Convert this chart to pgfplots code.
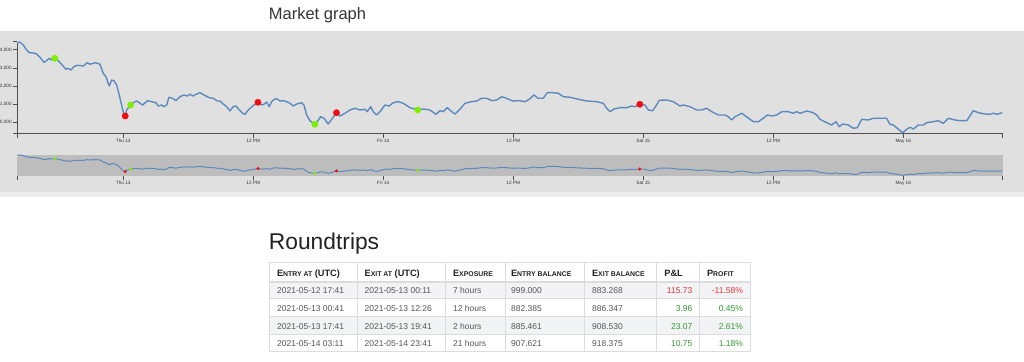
\documentclass[border=0pt]{standalone}
\usepackage{pgfplots}
\pgfplotsset{compat=1.18}
\usepackage{pgfplotstable}
\usepackage{fontspec}
\setmainfont{Liberation Sans}
\definecolor{cline}{RGB}{92,138,190}
\definecolor{cgreen}{RGB}{124,240,0}
\definecolor{cred}{RGB}{240,10,20}
\definecolor{bgpanel}{RGB}{224,224,224}
\definecolor{bgband}{RGB}{236,236,236}
\definecolor{brush}{RGB}{189,189,189}
\definecolor{axc}{RGB}{80,80,80}
\definecolor{tickc}{RGB}{51,51,51}
\definecolor{tborder}{RGB}{220,220,222}
\definecolor{tshade}{RGB}{242,243,245}
\definecolor{ttext}{RGB}{85,85,85}
\definecolor{thead}{RGB}{34,34,34}
\definecolor{tred}{RGB}{232,50,60}
\definecolor{tgreen}{RGB}{51,153,51}
\newcommand{\dfont}{\fontsize{4.25pt}{5pt}\selectfont}
\newcommand{\hfont}{\fontsize{4.6pt}{5.5pt}\selectfont\bfseries}
\newcommand{\sm}[1]{{\fontsize{3.45pt}{4pt}\selectfont #1}}

% hours since 2021-05-13 00:00 UTC, price
\pgfplotstableread{
h p
-9.78 24403
-9.54 24442
-9.23 24276
-8.92 24000
-8.68 23851
-8.31 23834
-7.99 23779
-7.69 23597
-7.32 23320
-7.07 23409
-6.83 23541
-6.61 23447
-6.317 23541
-6.00 23409
-5.69 23210
-5.29 22934
-5.08 22989
-4.83 22895
-4.55 23077
-4.25 23155
-3.69 23116
-3.32 23298
-3.07 23210
-2.77 23265
-2.52 23298
-2.15 23210
-1.85 22713
-1.60 22525
-1.44 22249
-1.29 22011
-1.07 22342
-0.86 22304
-0.61 22066
-0.37 21514
-0.15 20961
0.065 20409
0.183 20353
0.31 20685
0.683 20961
0.92 21088
1.24 21182
1.48 21088
1.79 20961
2.25 21199
2.71 21127
3.02 21088
3.23 20906
3.55 20961
3.76 20867
4.01 20961
4.22 21387
4.56 21331
4.87 21199
5.23 21420
5.60 21514
5.91 21458
6.16 21552
6.46 21458
6.71 21552
7.08 21641
7.45 21514
7.94 21365
8.31 21331
8.68 21182
8.93 21182
9.23 21016
9.55 20867
9.85 20630
10.15 20867
10.40 20906
10.71 20685
11.02 20503
11.23 20447
11.54 20685
11.95 20906
12.433 21110
12.78 20961
13.02 21016
13.24 21127
13.48 20867
13.70 21144
13.94 21276
14.16 21309
14.47 21182
14.77 21199
15.08 21144
15.39 21055
15.69 20906
16.01 21016
16.47 21088
16.68 20961
16.93 20409
17.23 20094
17.683 19895
17.91 20039
18.22 20315
18.53 20226
18.92 19911
19.24 20171
19.683 20536
20.00 20353
20.47 20503
20.93 20685
21.39 20779
21.85 20685
22.31 20724
22.52 20591
22.84 20867
23.08 20591
23.39 20409
23.70 20591
24.16 20961
24.55 20906
24.92 21088
25.39 21144
25.85 21055
26.47 20812
27.183 20685
27.69 20740
28.31 20685
28.87 20447
29.24 20646
29.54 20591
29.91 20812
30.32 20591
30.62 20464
31.08 20724
31.54 21055
32.16 21144
32.62 21182
33.08 21331
33.55 21331
34.01 21199
34.47 21237
34.93 21420
35.39 21331
35.95 21182
36.62 21199
37.08 21144
37.48 21276
37.91 21514
38.31 21331
38.77 21331
39.14 21641
39.64 21641
40.16 21608
40.62 21420
41.24 21387
42.00 21276
42.78 21182
43.70 21144
44.31 21055
44.62 20779
44.93 20591
45.30 20740
45.85 20812
46.47 20812
46.93 20906
47.24 20867
47.683 21000
48.16 20961
48.46 20685
48.87 20646
49.17 20906
49.48 21221
50.16 21237
50.77 21144
51.39 20906
51.69 20961
52.31 20867
52.93 20685
53.39 20685
53.85 20779
54.32 20591
54.93 20409
55.54 20409
55.85 20315
56.16 20132
56.47 20315
57.09 20503
57.60 20282
58.16 20039
58.62 20039
59.08 20226
59.45 20409
59.85 20353
60.32 20409
60.78 20591
61.39 20591
61.85 20503
62.16 20591
62.47 20503
63.09 20630
63.69 20536
64.01 20409
64.31 20171
64.93 19983
65.39 19856
65.79 20039
66.09 19762
66.41 19911
66.93 19856
67.39 19674
67.76 19707
68.16 20171
68.77 20132
69.23 20226
69.85 20226
70.47 20226
70.77 19895
71.08 19856
71.45 19674
71.95 19431
72.32 19619
72.62 19729
72.93 19635
73.39 19856
73.85 19856
74.16 19983
74.77 20039
75.23 20094
75.70 19950
76.16 20226
76.77 20132
77.24 20094
77.86 20094
78.46 20646
78.93 20536
79.54 20464
80.01 20447
80.31 20503
80.68 20447
81.14 20536
}\price

\pgfplotstableread{
h p
-6.317 23541
0.683 20961
17.683 19895
27.183 20685
}\entries

\pgfplotstableread{
h p
0.183 20353
12.433 21110
19.683 20536
47.683 21000
}\exits

\pgfplotsset{
  mkt/.style={
    scale only axis, anchor=south west,
    width=492.7pt,
    xmin=-9.78, xmax=81.18, ymin=19359, ymax=24442,
    scaled y ticks=false, scaled x ticks=false,
    tick align=outside, major tick length=2pt,
    every tick/.style={axc, line width=0.5pt},
    xtick={-9.78,0,12,24,36,48,60,72,81.18},
    xticklabels={{},Thu 13,12 PM,Fri 14,12 PM,Sat 15,12 PM,May 16,{}},
    tick label style={font=\fontsize{2.35pt}{3pt}\selectfont, text=tickc, inner sep=0.6pt},
    clip=false,
  },
  dotg/.style={only marks, mark=*, mark size=#1, mark options={solid, draw=cgreen, fill=cgreen, line width=0.15pt, line join=round}},
  dotr/.style={only marks, mark=*, mark size=#1, mark options={solid, draw=cred, fill=cred, line width=0.15pt, line join=round}},
}

\begin{document}
\begin{tikzpicture}
\useasboundingbox (0,0) rectangle (512pt,181pt);
\begin{scope}[x=0.5pt,y=-0.5pt,yshift=181pt]
  \fill[white] (0,0) rectangle (1024,362);
  \fill[bgpanel] (0,31) rectangle (1024,192);
  \fill[bgband] (0,192) rectangle (1024,197);
\end{scope}

% main chart
\begin{axis}[mkt,
  at={(8.65pt,114pt)}, height=46pt,
  axis lines*=left,
  axis line style={axc, line width=0.5pt},
  ytick={19359,20000,21000,22000,23000,24000,24442},
  yticklabels={{},{20,000},{21,000},{22,000},{23,000},{24,000},{}},
]
\addplot[cline, line width=0.7pt, line join=round] table[x=h,y=p] {\price};
\addplot[dotg=1.6pt] table[x=h,y=p] {\entries};
\addplot[dotr=1.6pt] table[x=h,y=p] {\exits};
\end{axis}

% context (brush) chart
\begin{axis}[mkt,
  at={(8.65pt,93.15pt)}, height=10.35pt,
  axis background/.style={fill=brush},
  axis x line*=bottom, axis y line=none,
  x axis line style={draw=none},
]
\addplot[cline, line width=0.5pt, line join=round] table[x=h,y=p] {\price};
\addplot[dotg=0.7pt] table[x=h,y=p] {\entries};
\addplot[dotr=0.7pt] table[x=h,y=p] {\exits};
\end{axis}

\begin{scope}[x=0.5pt,y=-0.5pt,yshift=181pt]
  \node[anchor=base west, inner sep=0, text=tickc, font=\fontsize{8.25pt}{10pt}\selectfont] at (268.5,19.4) {Market graph};
  \node[anchor=base west, inner sep=0, text=thead, font=\fontsize{11.4pt}{13pt}\selectfont] at (268.5,250) {Roundtrips};
  % table shading
  \fill[tshade] (269,281.7) rectangle (750.7,299);
  \fill[tshade] (269,316.7) rectangle (750.7,334.3);
  % grid
  \begin{scope}[draw=tborder, line width=0.5pt]
    \foreach \yy in {262.7,299,316.7,334.3,352}
      \draw (269,\yy) -- (750.7,\yy);
    \draw[line width=1pt] (269,281.7) -- (750.7,281.7);
    \foreach \xx in {269,357.3,445,505,584.3,656.7,699.3,750.7}
      \draw (\xx,262.7) -- (\xx,352);
  \end{scope}
  % header
  \begin{scope}[every node/.style={anchor=base west, inner sep=0, text=thead, font=\hfont}]
    \node at (276.7,276.6) {E\sm{NTRY AT} (UTC)};
    \node at (364.3,276.6) {E\sm{XIT AT} (UTC)};
    \node at (452.7,276.6) {E\sm{XPOSURE}};
    \node at (510.7,276.6) {E\sm{NTRY BALANCE}};
    \node at (591.7,276.6) {E\sm{XIT BALANCE}};
    \node at (664,276.6) {P\&L};
    \node at (706.7,276.6) {P\sm{ROFIT}};
  \end{scope}
  % body
  \begin{scope}[every node/.style={anchor=base west, inner sep=0, text=ttext, font=\dfont}]
    \node at (276.7,294) {2021-05-12 17:41};
    \node at (364.3,294) {2021-05-13 00:11};
    \node at (452.7,294) {7 hours};
    \node at (510.7,294) {999.000};
    \node at (591.7,294) {883.268};
    \node at (276.7,311.5) {2021-05-13 00:41};
    \node at (364.3,311.5) {2021-05-13 12:26};
    \node at (452.7,311.5) {12 hours};
    \node at (510.7,311.5) {882.385};
    \node at (591.7,311.5) {886.347};
    \node at (276.7,329.1) {2021-05-13 17:41};
    \node at (364.3,329.1) {2021-05-13 19:41};
    \node at (452.7,329.1) {2 hours};
    \node at (510.7,329.1) {885.461};
    \node at (591.7,329.1) {908.530};
    \node at (276.7,346.8) {2021-05-14 03:11};
    \node at (364.3,346.8) {2021-05-14 23:41};
    \node at (452.7,346.8) {21 hours};
    \node at (510.7,346.8) {907.621};
    \node at (591.7,346.8) {918.375};
  \end{scope}
  \begin{scope}[every node/.style={anchor=base east, inner sep=0, font=\dfont}]
    \node[text=tred] at (692.7,294) {115.73};
    \node[text=tred] at (743.3,294) {-11.58\%};
    \node[text=tgreen] at (692.7,311.5) {3.96};
    \node[text=tgreen] at (743.3,311.5) {0.45\%};
    \node[text=tgreen] at (692.7,329.1) {23.07};
    \node[text=tgreen] at (743.3,329.1) {2.61\%};
    \node[text=tgreen] at (692.7,346.8) {10.75};
    \node[text=tgreen] at (743.3,346.8) {1.18\%};
  \end{scope}
\end{scope}
\end{tikzpicture}
\end{document}
